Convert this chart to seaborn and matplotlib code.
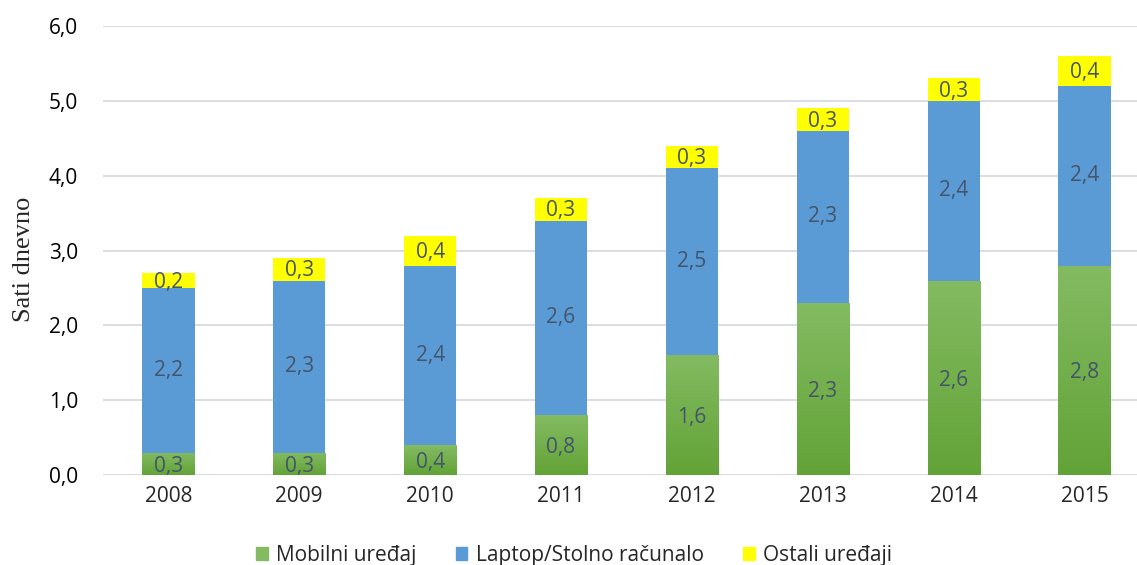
import numpy as np
import pandas as pd
import seaborn as sns
import matplotlib.pyplot as plt
from matplotlib.colors import LinearSegmentedColormap
from matplotlib.patches import Patch

# data
years = ['2008', '2009', '2010', '2011', '2012', '2013', '2014', '2015']
mobilni = [0.3, 0.3, 0.4, 0.8, 1.6, 2.3, 2.6, 2.8]
laptop = [2.2, 2.3, 2.4, 2.6, 2.5, 2.3, 2.4, 2.4]
ostali = [0.2, 0.3, 0.4, 0.3, 0.3, 0.3, 0.3, 0.4]
series_names = ['Mobilni uređaj', 'Laptop/Stolno računalo', 'Ostali uređaji']

df = pd.DataFrame({'Godina': years, 'Mobilni': mobilni, 'Laptop': laptop, 'Ostali': ostali})
df['do_laptop'] = df['Mobilni'] + df['Laptop']
df['ukupno'] = df['do_laptop'] + df['Ostali']

sns.set_style('white')
plt.rcParams['font.family'] = ['Open Sans', 'DejaVu Sans']

fig = plt.figure(figsize=(11.37, 5.65), dpi=100)
ax = fig.add_axes([0.0905, 0.159, 0.9095, 0.795])

blue = '#5b9bd5'
yellow = '#ffff00'
green_top = '#84bb62'
green_bot = '#62a337'
label_col = '#44546a'
fs = 15

# stacked bars drawn as overlapping cumulative totals
bar_kw = dict(width=0.4, saturation=1, linewidth=0, edgecolor='none', ax=ax)
sns.barplot(data=df, x='Godina', y='ukupno', color=yellow, **bar_kw)
sns.barplot(data=df, x='Godina', y='do_laptop', color=blue, **bar_kw)
sns.barplot(data=df, x='Godina', y='Mobilni', color=green_bot, **bar_kw)

# vertical gradient on the green segments
cmap = LinearSegmentedColormap.from_list('g', [green_bot, green_top])
grad = np.linspace(0, 1, 256).reshape(-1, 1)
for p in ax.containers[2].patches:
    x0, y0 = p.get_x(), p.get_y()
    w, h = p.get_width(), p.get_height()
    im = ax.imshow(grad, cmap=cmap, origin='lower', aspect='auto',
                   extent=[x0, x0 + w, y0, y0 + h], zorder=p.get_zorder() + 0.1)
    im.set_clip_path(p)

def fmt(v):
    return f'{v:.1f}'.replace('.', ',')

for i in range(len(years)):
    ax.text(i, mobilni[i] / 2 - 0.03, fmt(mobilni[i]), ha='center', va='center',
            fontsize=fs, color=label_col, zorder=5)
    ax.text(i, mobilni[i] + laptop[i] / 2, fmt(laptop[i]), ha='center', va='center',
            fontsize=fs, color=label_col, zorder=5)
    ax.text(i, mobilni[i] + laptop[i] + ostali[i] / 2 - 0.02, fmt(ostali[i]), ha='center',
            va='center', fontsize=fs, color=label_col, zorder=5)

ax.set_ylim(0, 6.0)
ax.set_xlim(-0.5, 7.4)
ax.set_yticks(np.arange(0, 6.01, 1.0))
ax.set_yticklabels([fmt(v) for v in np.arange(0, 6.01, 1.0)], fontsize=fs, color='#000000')
ax.tick_params(axis='x', labelsize=fs, length=0, pad=8)
ax.tick_params(axis='y', length=0, pad=18)
ax.yaxis.grid(True, color='#d9dde3', linewidth=1.4)
ax.set_axisbelow(True)
for s in ax.spines.values():
    s.set_visible(False)
ax.set_xlabel('')
ax.set_ylabel('Sati dnevno', fontsize=19, family='Liberation Serif')
ax.yaxis.set_label_coords(-0.066, 0.48)

# legend
colors = [green_top, blue, yellow]
handles = [Patch(color=c, label=n) for c, n in zip(colors, series_names)]
fig.legend(handles=handles, loc='lower center', bbox_to_anchor=(0.505, -0.035), ncol=3,
           frameon=False, fontsize=fs, handlelength=0.55, handleheight=0.55,
           handletextpad=0.4, columnspacing=1.9)

plt.savefig('out.png', dpi=100)
